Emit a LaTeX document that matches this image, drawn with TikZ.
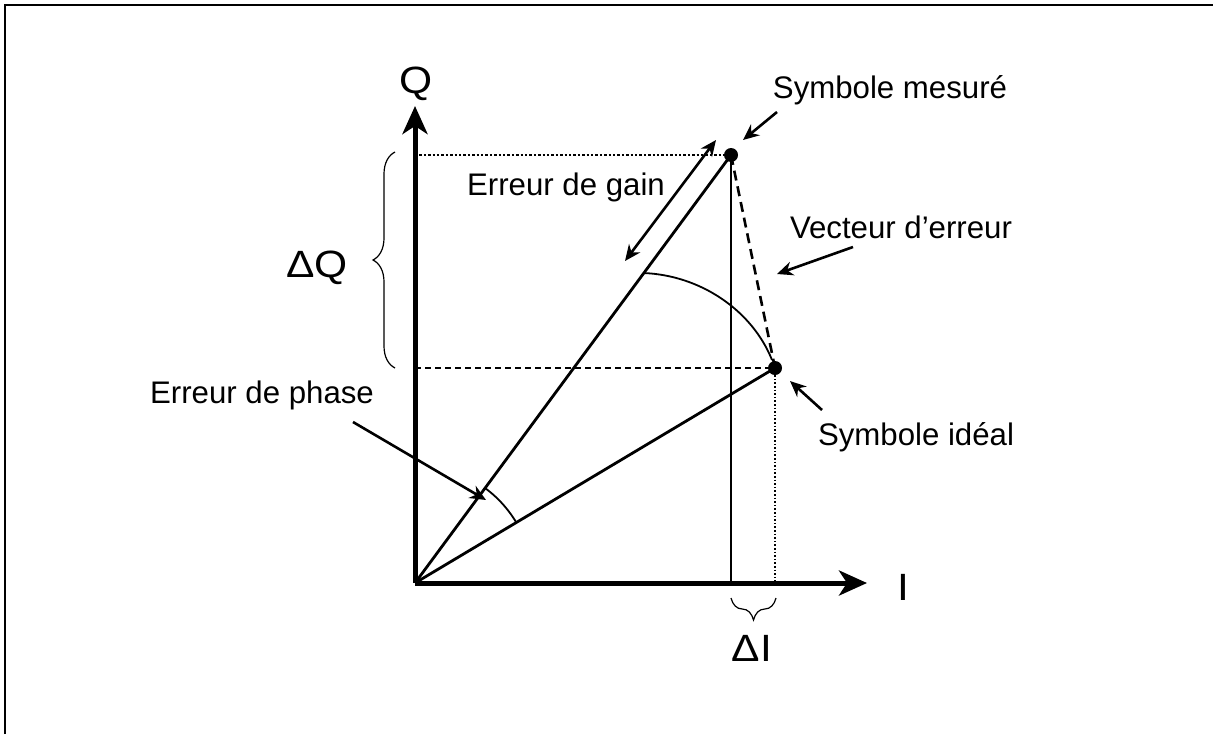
\documentclass[tikz,border=0pt]{standalone}
\usepackage{fontspec}
\setmainfont{Liberation Sans}
\usetikzlibrary{arrows.meta,decorations.pathreplacing}
\begin{document}
\begin{tikzpicture}[x=0.5pt,y=-0.5pt,
  lbl/.style={font=\fontsize{15.6}{18}\selectfont, inner sep=0pt},
  big/.style={font=\fontsize{19}{22}\selectfont, inner sep=0pt, xscale=1.12},
  axis/.style={line width=2.5pt, -{Stealth[length=14pt,width=12.5pt,inset=4pt]}},
  vec/.style={line width=1.4pt},
  callout/.style={line width=1.3pt, -{Stealth[length=8pt,width=7pt]}},
  guidethin/.style={line width=0.7pt, densely dashed},
  bracestyle/.style={line width=0.6pt, decorate, decoration={brace, amplitude=11pt}},
  dot/.style={circle, fill=black, inner sep=0pt, minimum size=7pt}
]
\useasboundingbox (0,0) rectangle (1213,734);
% frame
\draw[line width=1pt] (5,734) -- (5,5) -- (1213,5);

% points
\coordinate (O) at (415,583);
\coordinate (Qtip) at (415,106);
\coordinate (Itip) at (867,583);
\coordinate (Mq) at (415,155);
\coordinate (Sq) at (415,368);
\coordinate (Mi) at (731,583);
\coordinate (Si) at (775,583);

% guide lines
\draw[line width=1.2pt, densely dotted] (Mq) -- (731,155);
\draw[guidethin] (Sq) -- (775,368);
\draw[line width=0.9pt] (731,155) -- (Mi);
\draw[line width=0.8pt, densely dotted] (775,368) -- (Si);

% axes
\draw[axis] (O) -- (Qtip);
\draw[axis] (O) -- (Itip);

% vectors
\draw[vec] (O) -- (731,155);
\draw[vec] (O) -- (775,368);
\draw[line width=1.3pt, dashed, dash pattern=on 5pt off 3pt] (731,155) -- (775,368);

% arcs
\draw[line width=0.9pt] (643,273) .. controls (700,275) and (752,310) .. (772,360);
\draw[line width=0.9pt] plot[domain=31:53.6, samples=25, smooth] ({415+118*cos(\x)},{583-118*sin(\x)});

% symbol dots
\node[dot] (M) at (731,155) {};
\node[dot] (S) at (775,368) {};

% gain error double arrow
\coordinate (g1) at (625,261);
\coordinate (g2) at (716,140);
\draw[line width=1.3pt, {Stealth[length=8pt,width=7pt]}-{Stealth[length=8pt,width=7pt]}] (g1) -- (g2);

% labels
\node[big] (Qlbl) at (416,84) {Q};
\node[big] (Ilbl) at (903,587) {I};
\node[big] (dQ) at (317,268) {ΔQ};
\node[big] (dI) at (752,648) {ΔI};
\node[lbl] (meas) at (890,90) {Symbole mesuré};
\node[lbl] (vecerr) at (901,227) {Vecteur d'erreur};
\node[lbl] (ideal) at (916,437) {Symbole idéal};
\node[lbl] (phase) at (262,395) {Erreur de phase};
\node[lbl] (gain) at (566,187) {Erreur de gain};

% callouts
\coordinate (c1) at (777,112);
\coordinate (t1) at (743,140);
\draw[callout] (c1) -- (t1);
\coordinate (c2) at (853,247);
\coordinate (t2) at (777,274);
\draw[callout] (c2) -- (t2);
\coordinate (c3) at (822,410);
\coordinate (t3) at (790,381);
\draw[callout] (c3) -- (t3);
\coordinate (c4) at (353,422);
\coordinate (t4) at (486,500);
\draw[callout] (c4) -- (t4);

% braces
\draw[bracestyle] (395,368) -- (395,152);
\draw[bracestyle] (776,598) -- (731,598);
\end{tikzpicture}
\end{document}
